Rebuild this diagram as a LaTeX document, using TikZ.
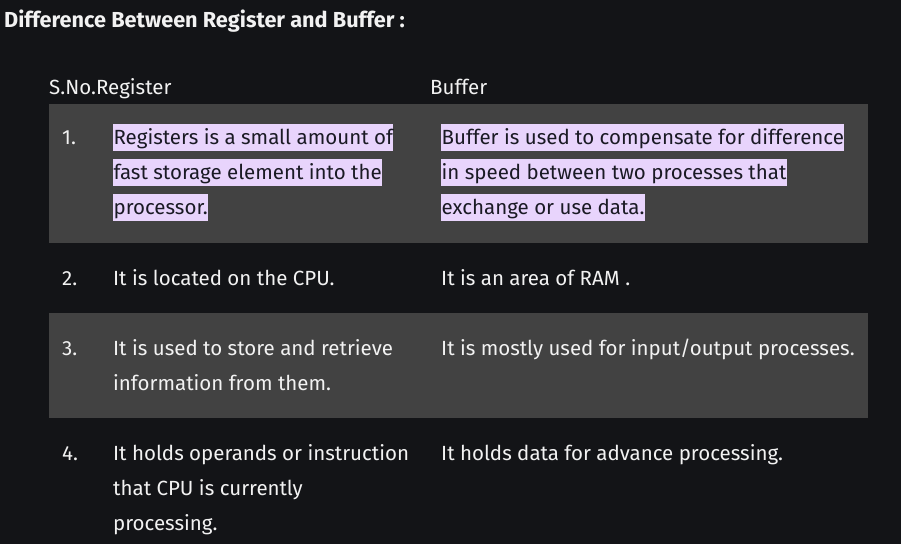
\documentclass[tikz,border=0pt]{standalone}
\usepackage{fontspec}
\setmainfont{Fira Sans}
\definecolor{bg}{HTML}{131417}
\definecolor{rowgray}{HTML}{424242}
\definecolor{hlbg}{HTML}{E8D4FC}
\definecolor{hltext}{HTML}{1A1A24}
\definecolor{fg}{HTML}{F2F2F2}
\tikzset{
  txt/.style={anchor=base west, inner sep=0pt, text=fg, font=\fontsize{20.5}{24}\selectfont},
  hl/.style={txt, text=hltext, fill=hlbg, text height=20.5pt, text depth=6.5pt, inner xsep=0.4pt},
  title/.style={anchor=base west, inner sep=0pt, text=fg, font=\bfseries\fontsize{21.7}{26}\selectfont},
  band/.style={fill=rowgray, draw=none}
}
\begin{document}
\begin{tikzpicture}[x=1pt,y=-1pt]
\fill[bg] (0,0) rectangle (901,544);
\useasboundingbox (0,0) rectangle (901,544);
\fill[band] (49,104) rectangle (868,242.7);
\fill[band] (49,312.7) rectangle (868,417.7);
\node[title] (title) at (4,27.3) {Difference Between Register and Buffer :};
\node[txt] (hsno) at (49,94) {S.No.Register};
\node[txt] (hbuf) at (430,94) {Buffer};
% row 1
\node[txt] (n1) at (62,144.3) {1.};
\node[hl] (r1a) at (113,144.3) {Registers is a small amount of};
\node[hl] (r1b) at (113,179.3) {fast storage element into the};
\node[hl] (r1c) at (113,214.3) {processor.};
\node[hl] (b1a) at (441,144.3) {Buffer is used to compensate for difference};
\node[hl] (b1b) at (441,179.3) {in speed between two processes that};
\node[hl] (b1c) at (441,214.3) {exchange or use data.};
% row 2
\node[txt] (n2) at (62,285.7) {2.};
\node[txt] (r2a) at (113,285.7) {It is located on the CPU.};
\node[txt] (b2a) at (441,285.7) {It is an area of RAM .};
% row 3
\node[txt] (n3) at (62,355) {3.};
\node[txt] (r3a) at (113,355) {It is used to store and retrieve};
\node[txt] (r3b) at (113,390) {information from them.};
\node[txt] (b3a) at (441,355) {It is mostly used for input/output processes.};
% row 4
\node[txt] (n4) at (62,460) {4.};
\node[txt] (r4a) at (113,460) {It holds operands or instruction};
\node[txt] (r4b) at (113,495) {that CPU is currently};
\node[txt] (r4c) at (113,530) {processing.};
\node[txt] (b4a) at (441,460) {It holds data for advance processing.};
\end{tikzpicture}
\end{document}
